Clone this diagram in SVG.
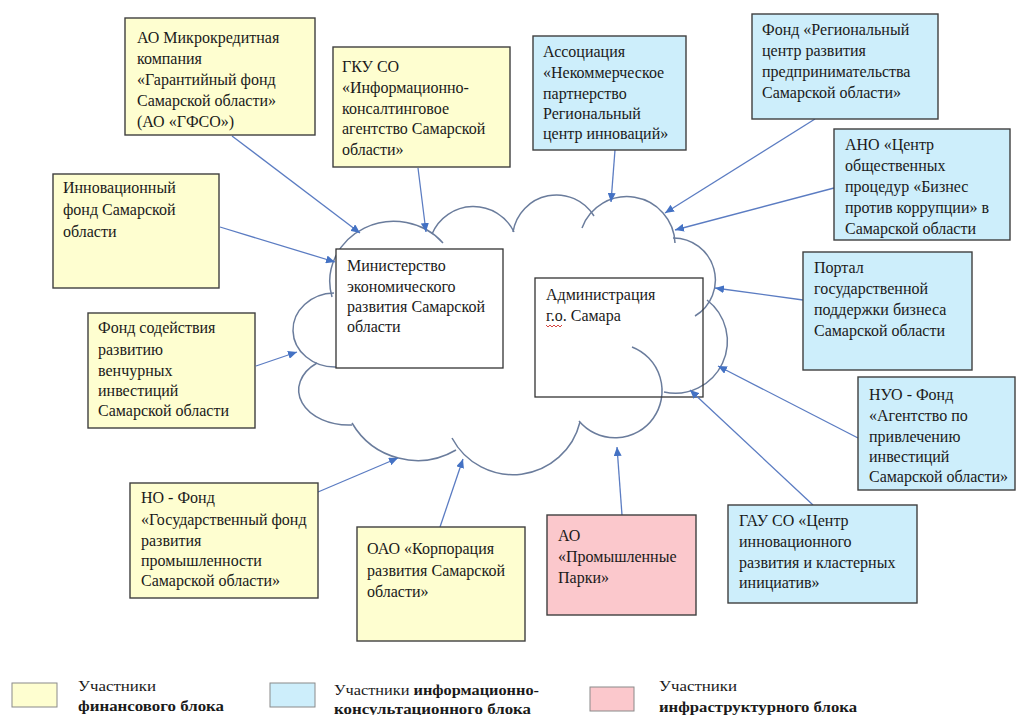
<svg xmlns="http://www.w3.org/2000/svg" width="1017" height="715" viewBox="0 0 1017 715">
<style>
.box{stroke:#3f3f3f;stroke-width:1.4}
.fin{fill:#fefed0}
.inf{fill:#cdeefb}
.infra{fill:#fbc8cc}
.ctr{fill:#ffffff;stroke:#333;stroke-width:1.3}
.cloud{fill:none;stroke:#6a7c9c;stroke-width:1.5}
.con{stroke:#5b7cc2;stroke-width:1.3;fill:none;marker-end:url(#ah)}
</style>
<defs>
<marker id="ah" markerUnits="userSpaceOnUse" markerWidth="10" markerHeight="8" refX="9" refY="4" orient="auto">
<path d="M0,0 L9,4 L0,8 z" fill="#4472c4"/>
</marker>
</defs>
<rect width="1017" height="715" fill="#ffffff"/>

<g id="cloud">
<path class="cloud" d="M332,297 A64,60 0 0 1 443,243"/>
<path class="cloud" d="M432,234 A45,45 0 0 1 514,232"/>
<path class="cloud" d="M513,232 A44,44 0 0 1 594,216"/>
<path class="cloud" d="M582,228 A48,48 0 0 1 675,243"/>
<path class="cloud" d="M673,238 A42,42 0 0 1 695,316"/>
<path class="cloud" d="M707,300 A52,52 0 0 1 664,392"/>
<path class="cloud" d="M632,347 A47,47 0 1 1 579,421"/>
<path class="cloud" d="M452,438 A69,69 0 0 0 580,422"/>
<path class="cloud" d="M352,423 A76,76 0 0 0 456,450"/>
<path class="cloud" d="M317,363 A50,35 0 0 0 352,425"/>
<path class="cloud" d="M334,293 A42,37 0 1 0 336,367"/>
</g>

<g id="ministry">
<rect class="ctr" x="336" y="249" width="167" height="119"/>
<text style="font-family:'Liberation Serif',serif;font-size:16px;fill:#1a1a1a" x="347" y="271">Министерство</text>
<text style="font-family:'Liberation Serif',serif;font-size:16px;fill:#1a1a1a" x="347" y="292">экономического</text>
<text style="font-family:'Liberation Serif',serif;font-size:16px;fill:#1a1a1a" x="347" y="312">развития Самарской</text>
<text style="font-family:'Liberation Serif',serif;font-size:16px;fill:#1a1a1a" x="347" y="332">области</text>
</g>

<g id="admin">
<rect x="535" y="278" width="168" height="119" fill="none" stroke="#333" stroke-width="1.3"/>
<text style="font-family:'Liberation Serif',serif;font-size:16px;fill:#1a1a1a" x="546" y="300">Администрация</text>
<text style="font-family:'Liberation Serif',serif;font-size:16px;fill:#1a1a1a" x="546" y="321">г.о. Самара</text>
<path d="M546,325 l2,2 2,-2 2,2 2,-2 2,2 2,-2 2,2 2,-2" fill="none" stroke="#d0302a" stroke-width="0.9"/>
</g>

<g id="connectors">
<line class="con" x1="232" y1="136" x2="360" y2="233"/>
<line class="con" x1="418" y1="168" x2="426" y2="232"/>
<line class="con" x1="220" y1="227" x2="335" y2="262"/>
<line class="con" x1="256" y1="366" x2="297" y2="352"/>
<line class="con" x1="318" y1="492" x2="398" y2="458"/>
<line class="con" x1="440" y1="527" x2="463" y2="459"/>
<line class="con" x1="622" y1="515" x2="617" y2="447"/>
<line class="con" x1="813" y1="505" x2="690" y2="390"/>
<line class="con" x1="858" y1="438" x2="718" y2="366"/>
<line class="con" x1="803" y1="300" x2="715" y2="288"/>
<line class="con" x1="834" y1="188" x2="675" y2="230"/>
<line class="con" x1="815" y1="119" x2="665" y2="213"/>
<line class="con" x1="615" y1="150" x2="611" y2="202"/>
</g>

<g id="n-gfso">
<rect class="box fin" x="125" y="18" width="190" height="117"/>
<text style="font-family:'Liberation Serif',serif;font-size:16px;fill:#1a1a1a" x="137" y="43">АО Микрокредитная</text>
<text style="font-family:'Liberation Serif',serif;font-size:16px;fill:#1a1a1a" x="137" y="64">компания</text>
<text style="font-family:'Liberation Serif',serif;font-size:16px;fill:#1a1a1a" x="137" y="85">«Гарантийный фонд</text>
<text style="font-family:'Liberation Serif',serif;font-size:16px;fill:#1a1a1a" x="137" y="106">Самарской области»</text>
<text style="font-family:'Liberation Serif',serif;font-size:16px;fill:#1a1a1a" x="137" y="127">(АО «ГФСО»)</text>
</g>

<g id="n-gku">
<rect class="box fin" x="333" y="47" width="177" height="120"/>
<text style="font-family:'Liberation Serif',serif;font-size:16px;fill:#1a1a1a" x="342" y="72">ГКУ СО</text>
<text style="font-family:'Liberation Serif',serif;font-size:16px;fill:#1a1a1a" x="342" y="93">«Информационно-</text>
<text style="font-family:'Liberation Serif',serif;font-size:16px;fill:#1a1a1a" x="342" y="114">консалтинговое</text>
<text style="font-family:'Liberation Serif',serif;font-size:16px;fill:#1a1a1a" x="342" y="134">агентство Самарской</text>
<text style="font-family:'Liberation Serif',serif;font-size:16px;fill:#1a1a1a" x="342" y="155">области»</text>
</g>

<g id="n-assoc">
<rect class="box inf" x="533" y="36" width="153" height="114"/>
<text style="font-family:'Liberation Serif',serif;font-size:16px;fill:#1a1a1a" x="543" y="57">Ассоциация</text>
<text style="font-family:'Liberation Serif',serif;font-size:16px;fill:#1a1a1a" x="543" y="78">«Некоммерческое</text>
<text style="font-family:'Liberation Serif',serif;font-size:16px;fill:#1a1a1a" x="543" y="99">партнерство</text>
<text style="font-family:'Liberation Serif',serif;font-size:16px;fill:#1a1a1a" x="543" y="119">Региональный</text>
<text style="font-family:'Liberation Serif',serif;font-size:16px;fill:#1a1a1a" x="543" y="139">центр инноваций»</text>
</g>

<g id="n-rcrp">
<rect class="box inf" x="752" y="14" width="186" height="105"/>
<text style="font-family:'Liberation Serif',serif;font-size:16px;fill:#1a1a1a" x="762" y="35">Фонд «Региональный</text>
<text style="font-family:'Liberation Serif',serif;font-size:16px;fill:#1a1a1a" x="762" y="56">центр развития</text>
<text style="font-family:'Liberation Serif',serif;font-size:16px;fill:#1a1a1a" x="762" y="77">предпринимательства</text>
<text style="font-family:'Liberation Serif',serif;font-size:16px;fill:#1a1a1a" x="762" y="98">Самарской области»</text>
</g>

<g id="n-ano">
<rect class="box inf" x="834" y="129" width="176" height="111"/>
<text style="font-family:'Liberation Serif',serif;font-size:16px;fill:#1a1a1a" x="845" y="150">АНО «Центр</text>
<text style="font-family:'Liberation Serif',serif;font-size:16px;fill:#1a1a1a" x="845" y="171">общественных</text>
<text style="font-family:'Liberation Serif',serif;font-size:16px;fill:#1a1a1a" x="845" y="192">процедур «Бизнес</text>
<text style="font-family:'Liberation Serif',serif;font-size:16px;fill:#1a1a1a" x="845" y="213">против коррупции» в</text>
<text style="font-family:'Liberation Serif',serif;font-size:16px;fill:#1a1a1a" x="845" y="234">Самарской области</text>
</g>

<g id="n-portal">
<rect class="box inf" x="803" y="252" width="169" height="118"/>
<text style="font-family:'Liberation Serif',serif;font-size:16px;fill:#1a1a1a" x="814" y="273">Портал</text>
<text style="font-family:'Liberation Serif',serif;font-size:16px;fill:#1a1a1a" x="814" y="294">государственной</text>
<text style="font-family:'Liberation Serif',serif;font-size:16px;fill:#1a1a1a" x="814" y="315">поддержки бизнеса</text>
<text style="font-family:'Liberation Serif',serif;font-size:16px;fill:#1a1a1a" x="814" y="336">Самарской области</text>
</g>

<g id="n-nuo">
<rect class="box inf" x="858" y="377" width="157" height="113"/>
<text style="font-family:'Liberation Serif',serif;font-size:16px;fill:#1a1a1a" x="869" y="400">НУО - Фонд</text>
<text style="font-family:'Liberation Serif',serif;font-size:16px;fill:#1a1a1a" x="869" y="421">«Агентство по</text>
<text style="font-family:'Liberation Serif',serif;font-size:16px;fill:#1a1a1a" x="869" y="442">привлечению</text>
<text style="font-family:'Liberation Serif',serif;font-size:16px;fill:#1a1a1a" x="869" y="462">инвестиций</text>
<text style="font-family:'Liberation Serif',serif;font-size:16px;fill:#1a1a1a" x="869" y="482">Самарской области»</text>
</g>

<g id="n-gau">
<rect class="box inf" x="728" y="505" width="189" height="98"/>
<text style="font-family:'Liberation Serif',serif;font-size:16px;fill:#1a1a1a" x="739" y="526">ГАУ СО «Центр</text>
<text style="font-family:'Liberation Serif',serif;font-size:16px;fill:#1a1a1a" x="739" y="547">инновационного</text>
<text style="font-family:'Liberation Serif',serif;font-size:16px;fill:#1a1a1a" x="739" y="568">развития и кластерных</text>
<text style="font-family:'Liberation Serif',serif;font-size:16px;fill:#1a1a1a" x="739" y="588">инициатив»</text>
</g>

<g id="n-parks">
<rect class="box infra" x="547" y="515" width="149" height="100"/>
<text style="font-family:'Liberation Serif',serif;font-size:16px;fill:#1a1a1a" x="558" y="541">АО</text>
<text style="font-family:'Liberation Serif',serif;font-size:16px;fill:#1a1a1a" x="558" y="562">«Промышленные</text>
<text style="font-family:'Liberation Serif',serif;font-size:16px;fill:#1a1a1a" x="558" y="583">Парки»</text>
</g>

<g id="n-oao">
<rect class="box fin" x="357" y="527" width="168" height="114"/>
<text style="font-family:'Liberation Serif',serif;font-size:16px;fill:#1a1a1a" x="367" y="554">ОАО «Корпорация</text>
<text style="font-family:'Liberation Serif',serif;font-size:16px;fill:#1a1a1a" x="367" y="576">развития Самарской</text>
<text style="font-family:'Liberation Serif',serif;font-size:16px;fill:#1a1a1a" x="367" y="597">области»</text>
</g>

<g id="n-no">
<rect class="box fin" x="130" y="483" width="188" height="115"/>
<text style="font-family:'Liberation Serif',serif;font-size:16px;fill:#1a1a1a" x="141" y="503">НО - Фонд</text>
<text style="font-family:'Liberation Serif',serif;font-size:16px;fill:#1a1a1a" x="141" y="525">«Государственный фонд</text>
<text style="font-family:'Liberation Serif',serif;font-size:16px;fill:#1a1a1a" x="141" y="546">развития</text>
<text style="font-family:'Liberation Serif',serif;font-size:16px;fill:#1a1a1a" x="141" y="566">промышленности</text>
<text style="font-family:'Liberation Serif',serif;font-size:16px;fill:#1a1a1a" x="141" y="586">Самарской области»</text>
</g>

<g id="n-venture">
<rect class="box fin" x="88" y="313" width="167" height="115"/>
<text style="font-family:'Liberation Serif',serif;font-size:16px;fill:#1a1a1a" x="98" y="333">Фонд содействия</text>
<text style="font-family:'Liberation Serif',serif;font-size:16px;fill:#1a1a1a" x="98" y="355">развитию</text>
<text style="font-family:'Liberation Serif',serif;font-size:16px;fill:#1a1a1a" x="98" y="376">венчурных</text>
<text style="font-family:'Liberation Serif',serif;font-size:16px;fill:#1a1a1a" x="98" y="396">инвестиций</text>
<text style="font-family:'Liberation Serif',serif;font-size:16px;fill:#1a1a1a" x="98" y="416">Самарской области</text>
</g>

<g id="n-innov">
<rect class="box fin" x="53" y="174" width="166" height="114"/>
<text style="font-family:'Liberation Serif',serif;font-size:16px;fill:#1a1a1a" x="63" y="193">Инновационный</text>
<text style="font-family:'Liberation Serif',serif;font-size:16px;fill:#1a1a1a" x="63" y="215">фонд Самарской</text>
<text style="font-family:'Liberation Serif',serif;font-size:16px;fill:#1a1a1a" x="63" y="237">области</text>
</g>

<g id="legend">
<rect x="12" y="683" width="45" height="24" fill="#fefed0" stroke="#8a8a8a" stroke-width="1"/>
<text style="font-family:'Liberation Serif',serif;font-size:14px;fill:#1a1a1a" x="78" y="691" textLength="78" lengthAdjust="spacingAndGlyphs">Участники</text>
<text style="font-family:'Liberation Serif',serif;font-size:14px;font-weight:bold;fill:#1a1a1a" x="78" y="711" textLength="146" lengthAdjust="spacingAndGlyphs">финансового блока</text>
<rect x="270" y="683" width="45" height="24" fill="#cdeefb" stroke="#8a8a8a" stroke-width="1"/>
<text style="font-family:'Liberation Serif',serif;font-size:14px;fill:#1a1a1a" x="334" y="695" textLength="205" lengthAdjust="spacingAndGlyphs">Участники <tspan style="font-weight:bold">информационно-</tspan></text>
<text style="font-family:'Liberation Serif',serif;font-size:14px;font-weight:bold;fill:#1a1a1a" x="334" y="714" textLength="197" lengthAdjust="spacingAndGlyphs">консультационного блока</text>
<rect x="590" y="687" width="44" height="24" fill="#fbc8cc" stroke="#8a8a8a" stroke-width="1"/>
<text style="font-family:'Liberation Serif',serif;font-size:14px;fill:#1a1a1a" x="659" y="691" textLength="78" lengthAdjust="spacingAndGlyphs">Участники</text>
<text style="font-family:'Liberation Serif',serif;font-size:14px;font-weight:bold;fill:#1a1a1a" x="659" y="712" textLength="198" lengthAdjust="spacingAndGlyphs">инфраструктурного блока</text>
</g>
</svg>
